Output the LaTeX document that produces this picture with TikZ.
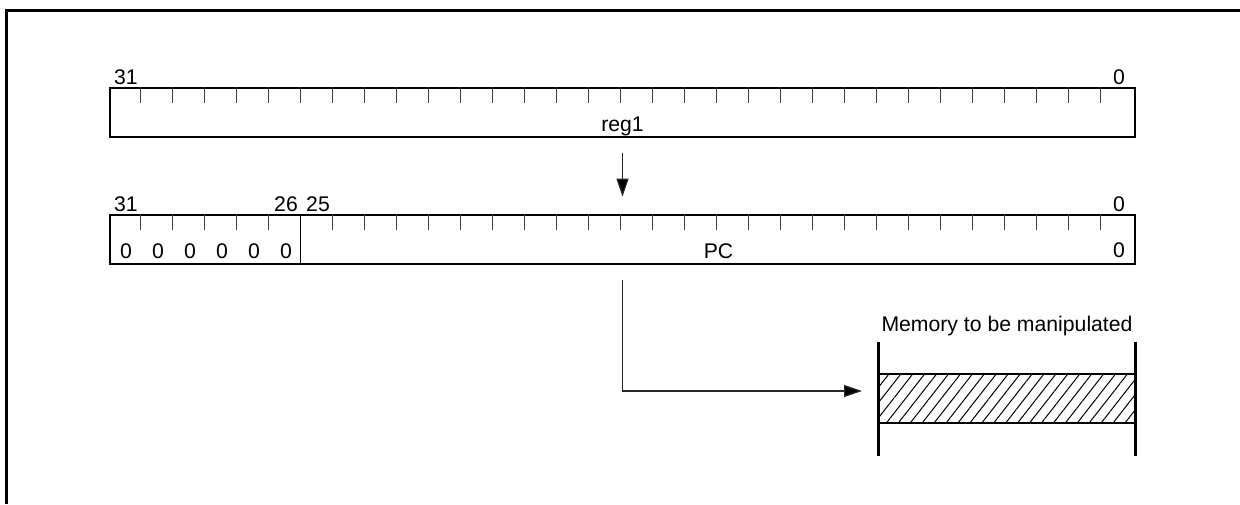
\documentclass[tikz,border=0pt]{standalone}
\usepackage{fontspec}
\setmainfont{Liberation Sans}
\usetikzlibrary{arrows.meta,patterns.meta,positioning}
\tikzstyle{regbox}=[draw, line width=1.4pt, minimum width=512.5pt, minimum height=24.5pt, inner sep=0pt]
\tikzstyle{bitno}=[anchor=base, inner sep=0pt, font=\fontsize{10.6}{12}\selectfont]
\tikzstyle{tick}=[line width=0.6pt, black!75]
\tikzstyle{arr}=[line width=0.6pt, black!85, -{Triangle[length=9pt,width=6pt,fill=black]}]
\begin{document}
\begin{tikzpicture}[x=0.5pt, y=-0.5pt]
		\useasboundingbox (0,0) rectangle (1240,504);
		\draw[line width=1.5pt] (6,504) -- (6,10) -- (1240,10);
		% reg1
		\node[regbox] (rega) at (622.5,112.5) {};
		\foreach \i in {1,...,31}
			\draw[tick] ([xshift=\i*16pt]rega.north west) -- ++(0,16);
		\node[bitno] (a31) at (126,84) {31};
		\node[bitno] (a0) at (1119,84) {0};
		\node[bitno] (areg) at (622.5,131) {reg1};
		% PC
		\node[regbox] (regb) at (622.5,239.5) {};
		\foreach \i in {1,2,3,4,5,7,8,...,31}
			\draw[tick] ([xshift=\i*16pt]regb.north west) -- ++(0,16);
		\draw[line width=0.6pt] ([xshift=96pt]regb.north west) -- ([xshift=96pt]regb.south west);
		\node[bitno] (b31) at (126,211) {31};
		\node[bitno] (b26) at (286,211) {26};
		\node[bitno] (b25) at (318,211) {25};
		\node[bitno] (b0) at (1119,211) {0};
		\foreach \i in {0,...,5}
			\node[bitno] (z\i) at (126+\i*32,258) {0};
		\node[bitno] (pc) at (718.5,258) {PC};
		\node[bitno] (pc0) at (1119,257) {0};
		% memory
		\node[draw, line width=1.4pt, pattern={Lines[angle=52,distance=4.7pt,line width=0.5pt]},
			minimum width=128pt, minimum height=24.5pt, inner sep=0pt] (mem) at (1007,398.5) {};
		\draw[line width=1.4pt] ([yshift=16pt]mem.north west) -- ([yshift=-16pt]mem.south west);
		\draw[line width=1.4pt] ([yshift=16pt]mem.north east) -- ([yshift=-16pt]mem.south east);
		\node[bitno] (memlbl) at (1007,331) {Memory to be manipulated};
		% arrows
		\coordinate (tip) at (862,391);
		\draw[arr] ([yshift=-7.5pt]rega.south) -- ([yshift=8.5pt]regb.north);
		\draw[arr] ([yshift=-7.5pt]regb.south) |- (tip);
	\end{tikzpicture}
\end{document}
